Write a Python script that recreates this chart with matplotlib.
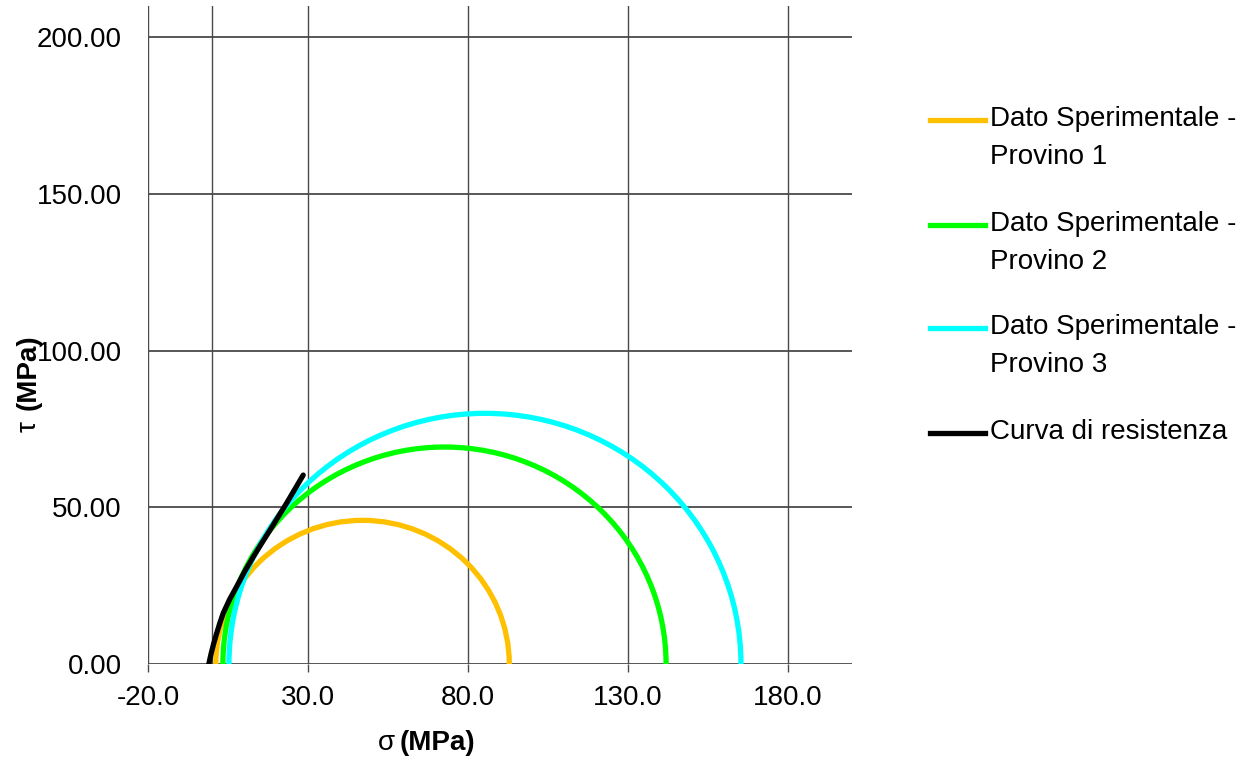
import matplotlib
matplotlib.use("Agg")
import matplotlib.pyplot as plt
from matplotlib.patches import Arc
from matplotlib.lines import Line2D

plt.rcParams['font.family'] = ['Liberation Sans', 'DejaVu Sans']

# Mohr circles: principal stresses (MPa)
specimens = ["Dato Sperimentale -\nProvino 1", "Dato Sperimentale -\nProvino 2", "Dato Sperimentale -\nProvino 3"]
sigma3 = [1.2, 3.4, 5.3]
sigma1 = [92.9, 141.9, 165.3]
colors = ["#FFC000", "#00FF00", "#00FFFF"]

# Strength envelope (curva di resistenza)
env_sigma = [-1.0, -0.3, 0.5, 1.4, 2.4, 3.5, 5.5, 7.7, 10.2, 12.9, 15.5, 18.1, 20.7, 23.3, 25.9, 28.5]
env_tau = [0.0, 3.2, 6.4, 9.6, 12.9, 16.2, 20.6, 24.7, 29.5, 34.2, 38.5, 42.7, 47.0, 51.3, 55.8, 60.3]
env_label = "Curva di resistenza"

xticks = [-20, 30, 80, 130, 180]
yticks = [0, 50, 100, 150, 200]

W, H = 1251, 758
fig = plt.figure(figsize=(W / 100, H / 100), dpi=100)
ax = fig.add_axes([148 / W, 1 - 664 / H, (852 - 148) / W, (664 - 6) / H])
ax.set_xlim(-20, 200)
ax.set_ylim(0, 210)

for s in ax.spines.values():
    s.set_visible(False)

grid_c = "#4a4a4a"
for x in xticks:
    ax.axvline(x, color=grid_c, lw=1.0, zorder=1)
ax.axvline(0, color=grid_c, lw=1.0, zorder=1)
for y in yticks:
    ax.axhline(y, color=grid_c, lw=1.3, zorder=1)

ax.set_xticks(xticks)
ax.set_xticklabels([f"{v:.1f}" for v in xticks])
ax.set_yticks(yticks)
ax.set_yticklabels([f"{v:.2f}" for v in yticks])
ax.tick_params(axis='x', direction='out', length=6, width=1.0, color=grid_c, pad=9, labelsize=20)
ax.tick_params(axis='y', length=0, pad=19, labelsize=20)

lw = 3.8
for s3, s1, c in zip(sigma3, sigma1, colors):
    center = (s1 + s3) / 2
    diam = s1 - s3
    arc = Arc((center, 0), diam, diam, theta1=0, theta2=180, color=c, lw=lw, zorder=3,
              capstyle='round')
    ax.add_patch(arc)

ax.plot(env_sigma, env_tau, color="black", lw=lw, zorder=4, solid_capstyle='round',
        solid_joinstyle='round')

# axis labels: symbol regular, unit bold
fig.text(378 / W, 1 - 750 / H, "σ", fontsize=20, ha='left', va='baseline')
fig.text(400 / W, 1 - 750 / H, "(MPa)", fontsize=20, fontweight='bold', ha='left', va='baseline')
fig.text(36 / W, 1 - 432 / H, "τ", fontsize=20, rotation=90, rotation_mode='anchor',
         ha='left', va='baseline')
fig.text(36 / W, 1 - 410 / H, "(MPa)", fontsize=20, fontweight='bold', rotation=90,
         rotation_mode='anchor', ha='left', va='baseline')

# legend
leg_y = [120, 225, 328, 433]
labels = specimens + [env_label]
leg_colors = colors + ["black"]
for y, lab, c in zip(leg_y, labels, leg_colors):
    fig.add_artist(Line2D([930 / W, 985 / W], [1 - y / H, 1 - y / H], color=c, lw=lw,
                          transform=fig.transFigure))
    fig.text(990 / W, 1 - (y - 14) / H, lab, fontsize=20, ha='left', va='top',
             linespacing=1.62)

fig.savefig("out.png", dpi=100)
